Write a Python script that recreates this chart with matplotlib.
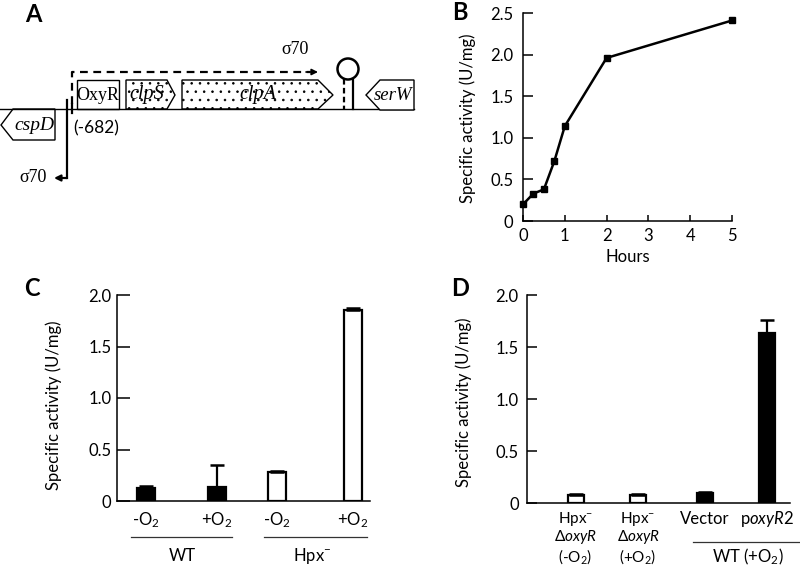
import matplotlib
matplotlib.use("Agg")
import matplotlib.pyplot as plt
from matplotlib.patches import Polygon, Rectangle, Circle, FancyArrowPatch

plt.rcParams['font.family'] = ['Lato', 'DejaVu Sans']
plt.rcParams['mathtext.fontset'] = 'custom'
plt.rcParams['mathtext.rm'] = 'Lato'
plt.rcParams['mathtext.it'] = 'Lato:italic'
plt.rcParams['mathtext.bf'] = 'Lato:bold'
plt.rcParams['hatch.linewidth'] = 0.6

# ---------------- data ----------------
b_hours = [0, 0.25, 0.5, 0.75, 1, 2, 5]
b_activity = [0.20, 0.33, 0.38, 0.72, 1.14, 1.96, 2.41]
b_xticks = [0, 1, 2, 3, 4, 5]
b_yticks = [0, 0.5, 1.0, 1.5, 2.0, 2.5]
b_yticklabels = ["0", "0.5", "1.0", "1.5", "2.0", "2.5"]

c_labels = ["-O$_2$", "+O$_2$", "-O$_2$", "+O$_2$"]
c_groups = ["WT", "Hpx$^{-}$"]
c_values = [0.13, 0.14, 0.28, 1.85]
c_err = [0.02, 0.21, 0.01, 0.02]
c_colors = ["black", "black", "white", "white"]

d_line1 = ["Hpx$^{-}$", "Hpx$^{-}$", "Vector", r"p$\mathit{oxyR2}$"]
d_line2 = [r"$\mathit{\Delta oxyR}$", r"$\mathit{\Delta oxyR}$", "", ""]
d_line3 = ["(-O$_2$)", "(+O$_2$)", "", ""]
d_group = "WT (+O$_2$)"
d_values = [0.08, 0.08, 0.10, 1.63]
d_err = [0.01, 0.01, 0.01, 0.13]
d_colors = ["white", "white", "black", "black"]

cd_yticks = [0, 0.5, 1.0, 1.5, 2.0]
cd_yticklabels = ["0", "0.5", "1.0", "1.5", "2.0"]

# layout (pixel-like positions along the axis)
c_pos = [28.5, 100, 160, 236]
d_pos = [48.5, 111, 178, 240]

W, H = 800, 573
fig = plt.figure(figsize=(W / 100, H / 100), dpi=100)

FS = 12      # general sans text
TFS = 12     # tick labels
YFS = 12     # y labels
DFS = 11     # stacked labels in D

# overlay in pixel coordinates for diagram & annotations
ov = fig.add_axes([0, 0, 1, 1])
ov.set_xlim(0, W)
ov.set_ylim(H, 0)
ov.axis('off')

def ax_rect(left, right, top, bottom):
    return [left / W, (H - bottom) / H, (right - left) / W, (bottom - top) / H]

# ---------------- Panel A (diagram) ----------------
lw = 1.0
serif = 'Liberation Serif'
ov.plot([0, 414], [109, 109], color='black', lw=lw)
ov.add_patch(Polygon([(55, 109), (13, 109), (1, 125), (13, 140), (55, 140)],
                     closed=True, fill=False, ec='black', lw=lw))
ov.text(34, 125, "cspD", family=serif, style='italic', fontsize=14, ha='center', va='center')
ov.add_patch(Rectangle((77, 80), 42, 29, fill=False, ec='black', lw=lw))
ov.text(98, 95, "OxyR", family=serif, fontsize=13, ha='center', va='center')
ov.add_patch(Polygon([(126, 80), (167, 80), (175, 95), (167, 109), (126, 109)],
                     closed=True, fill=False, ec='black', lw=lw, hatch='..'))
ov.text(147, 95, "clpS", family=serif, style='italic', fontsize=14.5, ha='center', va='center')
ov.add_patch(Polygon([(182, 80), (318, 80), (333, 95), (318, 109), (182, 109)],
                     closed=True, fill=False, ec='black', lw=lw, hatch='..'))
ov.text(258, 95, "clpA", family=serif, style='italic', fontsize=14.5, ha='center', va='center')
ov.add_patch(Polygon([(414, 80), (380, 80), (366, 95), (380, 110), (414, 110)],
                     closed=True, fc='white', ec='black', lw=lw, zorder=3))
ov.text(393, 95, "serW", family=serif, style='italic', fontsize=13.5, ha='center', va='center', zorder=4)
# hairpin
ov.add_patch(Circle((348, 69), 10.5, fill=False, ec='black', lw=1.8))
ov.plot([344, 344], [79, 109], color='black', lw=1.6, ls=(0, (2.5, 1.5)))
ov.plot([353, 353], [79, 109], color='black', lw=1.6)
# lower (cspD) promoter arrow
ov.plot([67, 67], [100, 178], color='black', lw=1.6)
ov.add_patch(FancyArrowPatch((67, 178), (54, 178), arrowstyle='-|>', mutation_scale=9,
                             color='black', lw=1.6, shrinkA=0, shrinkB=0))
ov.text(33, 178, "σ70", family=serif, fontsize=13, ha='center', va='center')
# upper dashed promoter arrow
ov.plot([72, 72], [104, 113], color='black', lw=1.6)
ov.plot([72, 72, 310], [104, 72, 72], color='black', lw=1.6, ls=(0, (3.5, 2.5)))
ov.add_patch(FancyArrowPatch((306, 72), (318, 72), arrowstyle='-|>', mutation_scale=9,
                             color='black', lw=1.2, shrinkA=0, shrinkB=0))
ov.text(295, 50, "σ70", family=serif, fontsize=13, ha='center', va='center')
ov.text(96, 128, "(-682)", fontsize=12.5, ha='center', va='center')

# panel letters
for letter, (x, y) in zip("ABCD", [(33, 15), (460, 12), (32, 288), (460, 288)]):
    ov.text(x, y, letter, fontsize=17, fontweight='bold', ha='center', va='center')

def style_axes(ax, ylen):
    for s in ['top', 'right']:
        ax.spines[s].set_visible(False)
    for s in ['left', 'bottom']:
        ax.spines[s].set_linewidth(1.1)
    ax.tick_params(axis='y', direction='in', length=ylen, width=1.1, labelsize=TFS)

# ---------------- Panel B ----------------
axb = fig.add_axes(ax_rect(523, 732, 13, 221))
axb.plot(b_hours, b_activity, color='black', lw=1.8, marker='s', markersize=5, clip_on=False)
axb.set_xlim(0, 5)
axb.set_ylim(0, 2.5)
axb.set_xticks(b_xticks)
axb.set_yticks(b_yticks)
axb.set_yticklabels(b_yticklabels)
style_axes(axb, 7)
axb.tick_params(axis='y', pad=7)
axb.tick_params(axis='x', direction='in', length=4.5, width=1.1, labelsize=TFS, pad=5)
axb.set_xlabel("Hours", fontsize=FS, labelpad=4)
axb.set_ylabel("Specific activity (U/mg)", fontsize=YFS)
axb.yaxis.set_label_coords(-0.225, 0.493)

# ---------------- Panel C ----------------
axc = fig.add_axes(ax_rect(117, 370, 295, 501))
axc.bar(c_pos, c_values, width=18, color=c_colors, edgecolor='black', linewidth=1.6,
        yerr=[[0] * len(c_err), c_err], capsize=5,
        error_kw=dict(elinewidth=1.6, capthick=1.8, ecolor='black'))
axc.set_xlim(0, 253)
axc.set_ylim(0, 2.0)
axc.set_yticks(cd_yticks)
axc.set_yticklabels(cd_yticklabels)
axc.set_xticks([])
style_axes(axc, 9.5)
axc.tick_params(axis='y', pad=4)
axc.set_ylabel("Specific activity (U/mg)", fontsize=YFS)
axc.yaxis.set_label_coords(-0.217, 0.466)
for p, lab in zip(c_pos, c_labels):
    ov.text(117 + p, 520, lab, fontsize=FS, ha='center', va='center')
ov.plot([131, 232], [537, 537], color='#333333', lw=0.9)
ov.plot([264, 367], [537, 537], color='#333333', lw=0.9)
ov.text(182, 556, c_groups[0], fontsize=FS, ha='center', va='center')
ov.text(312, 556, c_groups[1], fontsize=FS, ha='center', va='center')

# ---------------- Panel D ----------------
axd = fig.add_axes(ax_rect(527, 790, 295, 503))
axd.bar(d_pos, d_values, width=16, color=d_colors, edgecolor='black', linewidth=1.6,
        yerr=[[0] * len(d_err), d_err], capsize=5,
        error_kw=dict(elinewidth=1.6, capthick=1.8, ecolor='black'))
axd.set_xlim(0, 263)
axd.set_ylim(0, 2.0)
axd.set_yticks(cd_yticks)
axd.set_yticklabels(cd_yticklabels)
axd.set_xticks([])
style_axes(axd, 7.5)
axd.tick_params(axis='y', pad=6)
axd.set_ylabel("Specific activity (U/mg)", fontsize=YFS)
axd.yaxis.set_label_coords(-0.209, 0.486)
for p, l1, l2, l3 in zip(d_pos, d_line1, d_line2, d_line3):
    ov.text(527 + p, 519, l1, fontsize=(DFS if l2 else FS), ha='center', va='center')
    if l2:
        ov.text(527 + p, 537.5, l2, fontsize=DFS, ha='center', va='center')
    if l3:
        ov.text(527 + p, 557, l3, fontsize=DFS, ha='center', va='center')
ov.plot([693, 800], [542, 542], color='#333333', lw=0.9)
ov.text(748, 557, d_group, fontsize=FS, ha='center', va='center')

fig.savefig("out.png", dpi=100)
